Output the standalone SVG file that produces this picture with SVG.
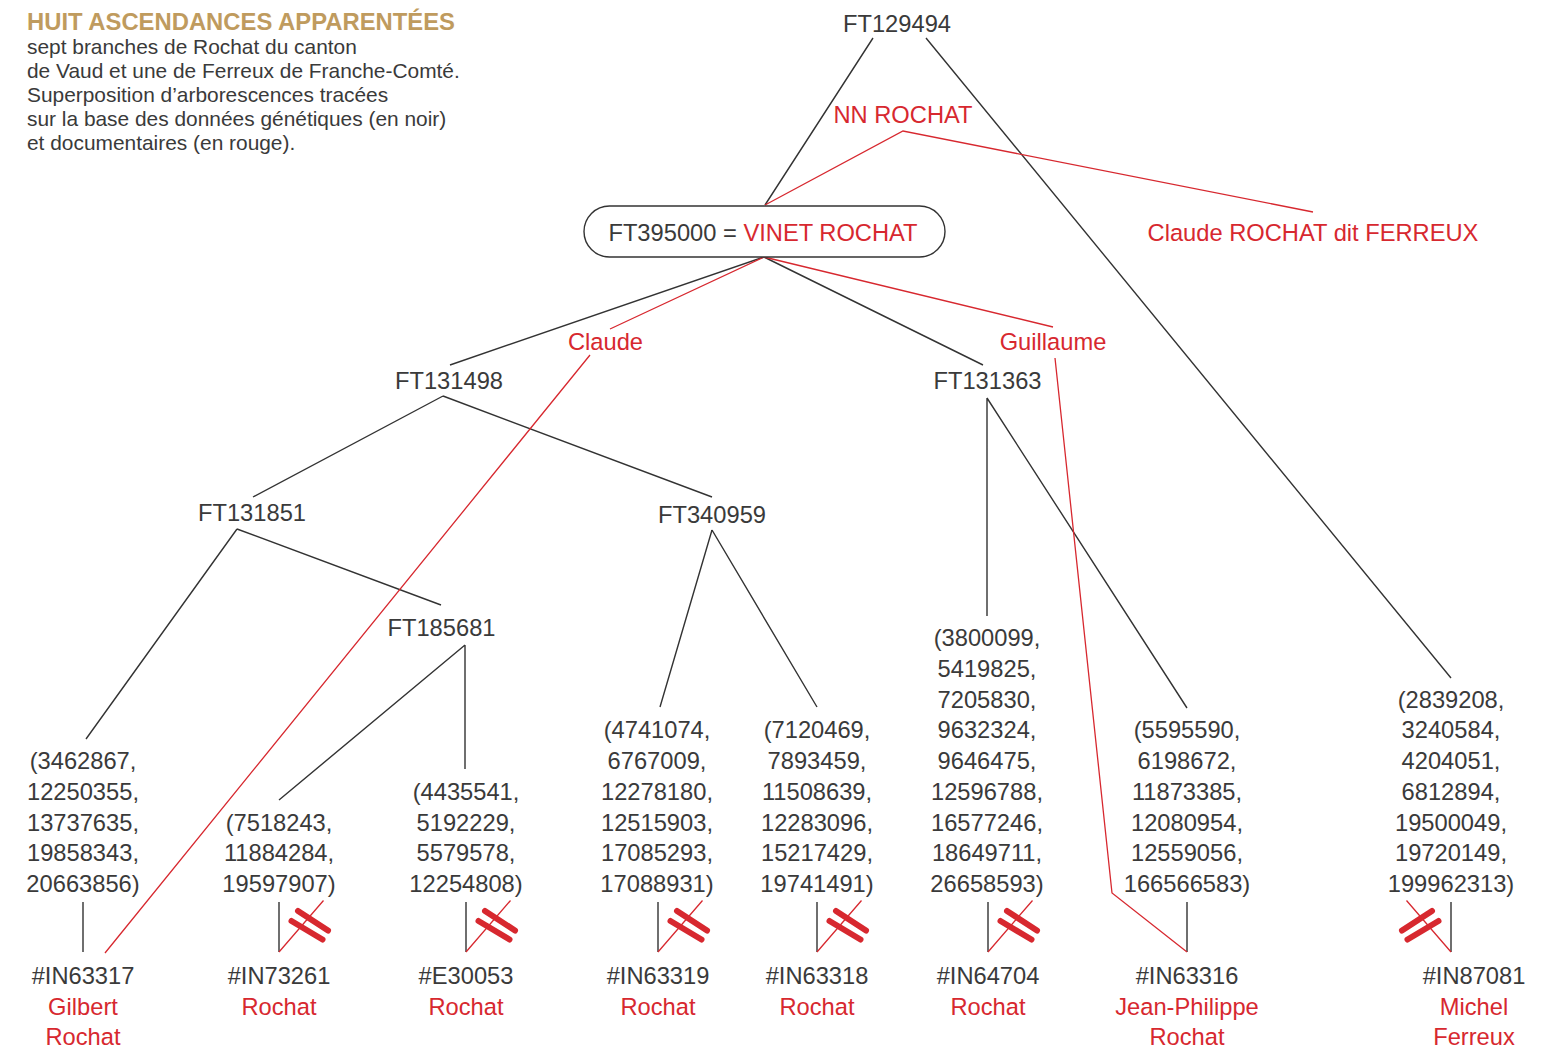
<svg xmlns="http://www.w3.org/2000/svg" width="1560" height="1051" viewBox="0 0 1560 1051">
<style>
text{font-family:"Liberation Sans",Arial,sans-serif;font-size:23.7px;fill:#3a3a3a;text-anchor:middle}
.r{fill:#d7282f}
.t{font-weight:bold;fill:#bf9b5e;text-anchor:start;font-size:23.5px}
.b{text-anchor:start;font-size:20.9px}
.k{fill:none;stroke:#333;stroke-width:1.4}
.rl{fill:none;stroke:#d7282f;stroke-width:1.3}
.brk{stroke:#d7282f;stroke-width:6;stroke-linecap:round}
.pill{fill:#fff;stroke:#333;stroke-width:1.4}
</style>
<defs>
<g id="brk"><line class="brk" x1="19" y1="-41" x2="49" y2="-21.5"/><line class="brk" x1="12.5" y1="-31" x2="43.5" y2="-12.5"/></g>
</defs>
<rect width="1560" height="1051" fill="#fff"/>
<g id="legend">
<text class="t" x="27" y="30" textLength="428" lengthAdjust="spacingAndGlyphs">HUIT ASCENDANCES APPARENTÉES</text>
<text class="b" x="27" y="54">sept branches de Rochat du canton</text>
<text class="b" x="27" y="78">de Vaud et une de Ferreux de Franche-Comté.</text>
<text class="b" x="27" y="102">Superposition d’arborescences tracées</text>
<text class="b" x="27" y="126">sur la base des données génétiques (en noir)</text>
<text class="b" x="27" y="150">et documentaires (en rouge).</text>
</g>
<g id="connectors">
<path class="k" d="M873,38L765,205M926,38L1451,678M764,257L450,365M764,257L983,365M443,396L253,497M443,396L712,497M237,529L86,739M237,529L441,605M465,645L279,800M465,645L465,769M712,530L660,707M712,530L817,707M987,398L987,616M987,398L1187,708"/>
<path class="k" d="M83,902V952M279,902V952M466,902V952M658,902V952M817,902V952M988,902V952M1187,902V952M1451,902V952"/>
<path class="rl" d="M765,205L903,131L1313,212M764,257L610,329M590,355L105,953M764,257L1053,327M1055,358L1112,893L1187,952"/>
<path class="rl" d="M279,952L323.5,900.5M466,952L510.5,900.5M658,952L702.5,900.5M817,952L861.5,900.5M988,952L1032.5,900.5M1451,952L1406.5,900.5"/>
<use href="#brk" transform="translate(279,952)"/>
<use href="#brk" transform="translate(466,952)"/>
<use href="#brk" transform="translate(658,952)"/>
<use href="#brk" transform="translate(817,952)"/>
<use href="#brk" transform="translate(988,952)"/>
<use href="#brk" transform="translate(1451,952) scale(-1,1)"/>
</g>
<g id="n-FT129494"><text x="897" y="32">FT129494</text></g>
<g id="n-NNROCHAT"><text class="r" x="903" y="123">NN ROCHAT</text></g>
<g id="n-FT395000"><rect class="pill" x="584" y="206" width="361" height="51" rx="25.5"/><text x="763" y="241">FT395000 = <tspan class="r">VINET ROCHAT</tspan></text></g>
<g id="n-ClaudeFerreux"><text class="r" x="1313" y="241">Claude ROCHAT dit FERREUX</text></g>
<g id="n-Claude"><text class="r" x="605.5" y="350">Claude</text></g>
<g id="n-Guillaume"><text class="r" x="1053" y="350">Guillaume</text></g>
<g id="n-FT131498"><text x="449" y="389">FT131498</text></g>
<g id="n-FT131363"><text x="987.5" y="389">FT131363</text></g>
<g id="n-FT131851"><text x="252" y="521">FT131851</text></g>
<g id="n-FT340959"><text x="712" y="523">FT340959</text></g>
<g id="n-FT185681"><text x="441.5" y="636">FT185681</text></g>
<g id="leaf-1"><text x="83" y="769">(3462867,</text><text x="83" y="799.75">12250355,</text><text x="83" y="830.5">13737635,</text><text x="83" y="861.25">19858343,</text><text x="83" y="892">20663856)</text></g>
<g id="leaf-2"><text x="279" y="830.5">(7518243,</text><text x="279" y="861.25">11884284,</text><text x="279" y="892">19597907)</text></g>
<g id="leaf-3"><text x="466" y="799.75">(4435541,</text><text x="466" y="830.5">5192229,</text><text x="466" y="861.25">5579578,</text><text x="466" y="892">12254808)</text></g>
<g id="leaf-4"><text x="657" y="738.25">(4741074,</text><text x="657" y="769">6767009,</text><text x="657" y="799.75">12278180,</text><text x="657" y="830.5">12515903,</text><text x="657" y="861.25">17085293,</text><text x="657" y="892">17088931)</text></g>
<g id="leaf-5"><text x="817" y="738.25">(7120469,</text><text x="817" y="769">7893459,</text><text x="817" y="799.75">11508639,</text><text x="817" y="830.5">12283096,</text><text x="817" y="861.25">15217429,</text><text x="817" y="892">19741491)</text></g>
<g id="leaf-6"><text x="987" y="646">(3800099,</text><text x="987" y="676.75">5419825,</text><text x="987" y="707.5">7205830,</text><text x="987" y="738.25">9632324,</text><text x="987" y="769">9646475,</text><text x="987" y="799.75">12596788,</text><text x="987" y="830.5">16577246,</text><text x="987" y="861.25">18649711,</text><text x="987" y="892">26658593)</text></g>
<g id="leaf-7"><text x="1187" y="738.25">(5595590,</text><text x="1187" y="769">6198672,</text><text x="1187" y="799.75">11873385,</text><text x="1187" y="830.5">12080954,</text><text x="1187" y="861.25">12559056,</text><text x="1187" y="892">166566583)</text></g>
<g id="leaf-8"><text x="1451" y="707.5">(2839208,</text><text x="1451" y="738.25">3240584,</text><text x="1451" y="769">4204051,</text><text x="1451" y="799.75">6812894,</text><text x="1451" y="830.5">19500049,</text><text x="1451" y="861.25">19720149,</text><text x="1451" y="892">199962313)</text></g>
<g id="p-IN63317"><text x="83" y="984">#IN63317</text><text class="r" x="83" y="1015">Gilbert</text><text class="r" x="83" y="1045">Rochat</text></g>
<g id="p-IN73261"><text x="279" y="984">#IN73261</text><text class="r" x="279" y="1015">Rochat</text></g>
<g id="p-E30053"><text x="466" y="984">#E30053</text><text class="r" x="466" y="1015">Rochat</text></g>
<g id="p-IN63319"><text x="658" y="984">#IN63319</text><text class="r" x="658" y="1015">Rochat</text></g>
<g id="p-IN63318"><text x="817" y="984">#IN63318</text><text class="r" x="817" y="1015">Rochat</text></g>
<g id="p-IN64704"><text x="988" y="984">#IN64704</text><text class="r" x="988" y="1015">Rochat</text></g>
<g id="p-IN63316"><text x="1187" y="984">#IN63316</text><text class="r" x="1187" y="1015">Jean-Philippe</text><text class="r" x="1187" y="1045">Rochat</text></g>
<g id="p-IN87081"><text x="1474" y="984">#IN87081</text><text class="r" x="1474" y="1015">Michel</text><text class="r" x="1474" y="1045">Ferreux</text></g>
</svg>
